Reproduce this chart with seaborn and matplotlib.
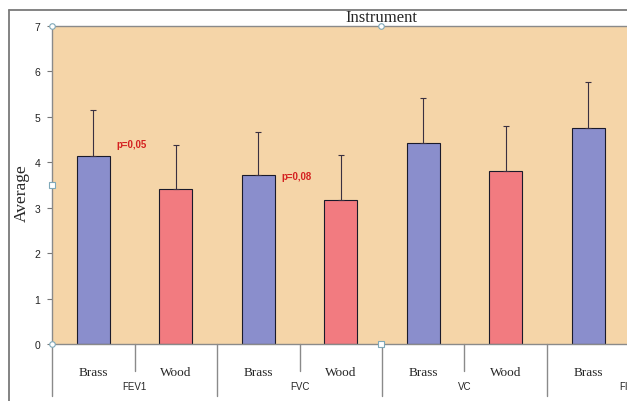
import matplotlib
matplotlib.use("Agg")
import matplotlib.pyplot as plt
import seaborn as sns
import pandas as pd
from matplotlib.lines import Line2D

# ---- data ----
groups = ["FEV1", "FVC", "VC", "FIV1"]
instruments = ["Brass", "Wood"]
brass_means = [4.14, 3.72, 4.43, 4.76]
wood_means = [3.41, 3.17, 3.81]          # last Wood bar lies outside the picture
brass_err = [1.00, 0.95, 0.99, 1.00]
wood_err = [0.97, 0.99, 0.99]
p_labels = ["p=0,05", "p=0,08"]
y_ticks = [0, 1, 2, 3, 4, 5, 6, 7]

slots = [f"{g} {i}" for g in groups for i in instruments]
rows = []
for gi, g in enumerate(groups):
    rows.append({"slot": f"{g} Brass", "inst": "Brass", "mean": brass_means[gi], "err": brass_err[gi]})
    if gi < len(wood_means):
        rows.append({"slot": f"{g} Wood", "inst": "Wood", "mean": wood_means[gi], "err": wood_err[gi]})
df = pd.DataFrame(rows)

sns.set_style("white")
fig = plt.figure(figsize=(6.27, 4.02), dpi=100)
W, H = 627, 402
left, right, top, bottom = 52, 712, 27, 345
ax = fig.add_axes([left / W, 1 - bottom / H, (right - left) / W, (bottom - top) / H])
ax.set_facecolor("#F5D5A8")

palette = {"Brass": "#8A8ECC", "Wood": "#F27B80"}
sns.barplot(data=df, x="slot", y="mean", hue="inst", order=slots, palette=palette,
            dodge=False, width=0.4, edgecolor="#1a1a2a", linewidth=0.8, saturation=1,
            errorbar=None, legend=False, ax=ax)

pos = {s: i for i, s in enumerate(slots)}
xs = [pos[s] for s in df["slot"]]
ax.errorbar(xs, df["mean"], yerr=[[0] * len(df), df["err"]], fmt="none",
            ecolor="#3a3040", elinewidth=0.8, capsize=2.5, capthick=0.8, zorder=5)

ax.set_xlim(-0.5, len(slots) - 0.5)
ax.set_ylim(0, 7)
ax.set_yticks(y_ticks)
ax.set_yticklabels([str(t) for t in y_ticks], fontsize=7.5, family="Liberation Sans", color="#222")
ax.tick_params(axis="y", direction="out", length=3.5, width=0.8, color="#777", pad=5, left=True)
ax.set_xticks([])
ax.set_xlabel("")
ax.set_ylabel("Average", family="Liberation Serif", fontsize=12.5)
ax.yaxis.set_label_coords((30 - left) / (right - left), (bottom - 193) / (bottom - top))
for sp in ["left", "top", "bottom"]:
    ax.spines[sp].set_visible(True)
    ax.spines[sp].set_color("#8a8a8a")
    ax.spines[sp].set_linewidth(1.0)
ax.spines["right"].set_visible(False)

# p-value annotations
ax.text(0 + 0.285, 4.40, p_labels[0], color="#D42020", fontsize=7, fontweight="bold",
        family="Liberation Sans", va="center", ha="left")
ax.text(2 + 0.285, 3.70, p_labels[1], color="#D42020", fontsize=7, fontweight="bold",
        family="Liberation Sans", va="center", ha="left")

# category axis labels and divider lines (below the plot area)
trans = ax.get_xaxis_transform()
def yfrac(py):
    return (bottom - py) / (bottom - top)

present = set(df["slot"])
for gi, g in enumerate(groups):
    gx0 = gi * 2 - 0.5
    ax.add_line(Line2D([gx0, gx0], [0, yfrac(397)], transform=trans, color="#8a8a8a",
                       lw=1.0, clip_on=False))
    ax.add_line(Line2D([gi * 2 + 0.5, gi * 2 + 0.5], [0, yfrac(372)], transform=trans,
                       color="#8a8a8a", lw=1.0, clip_on=False))
    for ii, inst in enumerate(instruments):
        if f"{g} {inst}" not in present:
            continue
        ax.text(gi * 2 + ii, yfrac(373), inst, transform=trans, ha="center", va="center",
                family="Liberation Serif", fontsize=9.5, clip_on=False)
    ax.text(gi * 2 + 0.5, yfrac(387), g, transform=trans, ha="center", va="center",
            family="Liberation Sans", fontsize=7, clip_on=False)

# title
fig.text(381 / W, 1 - 18 / H, "Instrument", ha="center", va="center",
         family="Liberation Serif", fontsize=12)

# outer chart border
fig.add_artist(Line2D([9 / W, 1.0], [1 - 11 / H, 1 - 11 / H], transform=fig.transFigure,
                      color="#7a7a7a", lw=1.3))
fig.add_artist(Line2D([9 / W, 9 / W], [1 - 11 / H, 0], transform=fig.transFigure,
                      color="#7a7a7a", lw=1.3))

# selection handles
for (hx, hy, m) in [(52, 27, "o"), (52, 345, "o"), (52, 186, "s"), (381, 345, "s"), (381, 27, "o")]:
    fig.add_artist(Line2D([hx / W], [1 - hy / H], transform=fig.transFigure, marker=m,
                          markersize=4, markerfacecolor="white", markeredgecolor="#7fa8b8",
                          markeredgewidth=0.8, linestyle="none"))

fig.savefig("out.png", dpi=100)
